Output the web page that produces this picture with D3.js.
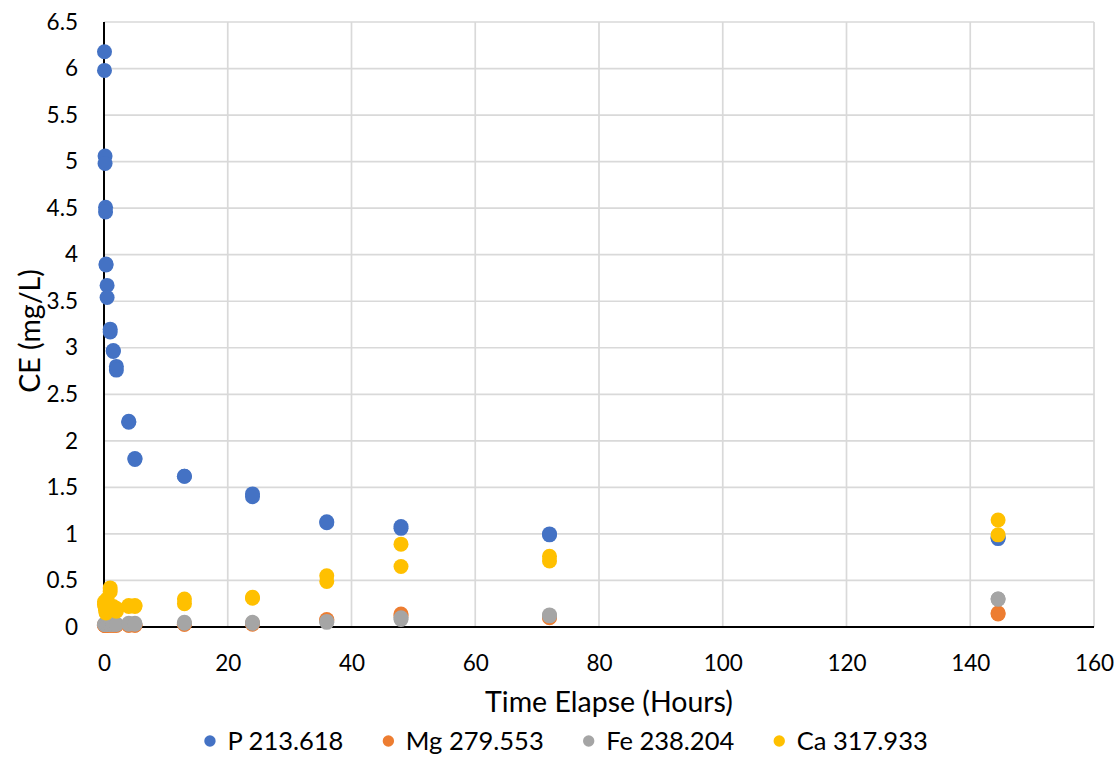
<!DOCTYPE html>
<html>
<head>
<meta charset="utf-8">
<script src="https://cdn.jsdelivr.net/npm/d3@7"></script>
<style>
  body { margin: 0; background: #fff; }
  svg { display: block; }
  text { font-family: Lato, "Open Sans", sans-serif; fill: #000; }
</style>
</head>
<body>
<svg id="chart" width="1119" height="757"></svg>
<script>
// Sampling times (hours), duplicate samples at each time
const hours = [0.08, 0.08, 0.17, 0.17, 0.25, 0.25, 0.33, 0.33, 0.5, 0.5, 1, 1, 1.5, 1.5, 2, 2,
               4, 4, 5, 5, 13, 13, 24, 24, 36, 36, 48, 48, 72, 72, 144.5, 144.5];

// Concentrations (mg/L) per emission line
const pValues  = [6.18, 5.98, 5.06, 4.98, 4.51, 4.46, 3.90, 3.89, 3.67, 3.54, 3.20, 3.17, 2.97, 2.96, 2.80, 2.76,
                  2.21, 2.20, 1.81, 1.80, 1.62, 1.62, 1.43, 1.40, 1.13, 1.12, 1.08, 1.06, 1.00, 0.99, 0.96, 0.95];
const mgValues = [0.02, 0.02, 0.02, 0.02, 0.02, 0.02, 0.02, 0.02, 0.02, 0.02, 0.02, 0.02, 0.02, 0.02, 0.02, 0.02,
                  0.02, 0.02, 0.02, 0.02, 0.03, 0.03, 0.04, 0.03, 0.08, 0.07, 0.14, 0.12, 0.11, 0.10, 0.15, 0.14];
const feValues = [0.03, 0.03, 0.03, 0.03, 0.03, 0.03, 0.03, 0.03, 0.03, 0.03, 0.03, 0.03, 0.03, 0.03, 0.03, 0.03,
                  0.04, 0.03, 0.04, 0.03, 0.05, 0.04, 0.05, 0.04, 0.06, 0.05, 0.10, 0.08, 0.13, 0.12, 0.30, 0.30];
const caValues = [0.27, 0.24, 0.25, 0.22, 0.20, 0.18, 0.22, 0.15, 0.30, 0.25, 0.42, 0.38, 0.22, 0.20, 0.20, 0.17,
                  0.23, 0.22, 0.23, 0.22, 0.30, 0.25, 0.32, 0.31, 0.55, 0.49, 0.89, 0.65, 0.76, 0.71, 1.15, 0.99];

const seriesNames  = ["P 213.618", "Mg 279.553", "Fe 238.204", "Ca 317.933"];
const seriesColors = ["#4472C4", "#ED7D31", "#A5A5A5", "#FFC000"];
const seriesValues = [pValues, mgValues, feValues, caValues];

const xTickValues = [0, 20, 40, 60, 80, 100, 120, 140, 160];
const yTickValues = [0, 0.5, 1, 1.5, 2, 2.5, 3, 3.5, 4, 4.5, 5, 5.5, 6, 6.5];

const xTitle = "Time Elapse (Hours)";
const yTitle = "CE (mg/L)";

const svg = d3.select("#chart");
const plot = { left: 104, right: 1094, top: 22, bottom: 627 };

const x = d3.scaleLinear().domain([0, 160]).range([plot.left, plot.right]);
const y = d3.scaleLinear().domain([0, 6.5]).range([plot.bottom, plot.top]);

// Gridlines
const grid = svg.append("g");
grid.selectAll("line.h").data(yTickValues).join("line")
  .attr("x1", plot.left).attr("x2", plot.right)
  .attr("y1", d => y(d)).attr("y2", d => y(d))
  .attr("stroke", "#D9D9D9").attr("stroke-width", 1.7);
grid.selectAll("line.v").data(xTickValues).join("line")
  .attr("y1", plot.top).attr("y2", plot.bottom)
  .attr("x1", d => x(d)).attr("x2", d => x(d))
  .attr("stroke", "#D9D9D9").attr("stroke-width", 1.7);

// Axes (labels only, solid black axis lines drawn separately)
const fmt = d => String(+d.toFixed(1));
const xAxis = svg.append("g").attr("transform", `translate(0,${plot.bottom})`)
  .call(d3.axisBottom(x).tickValues(xTickValues).tickFormat(fmt).tickSize(0).tickPadding(44));
const yAxis = svg.append("g").attr("transform", `translate(${plot.left},0)`)
  .call(d3.axisLeft(y).tickValues(yTickValues).tickFormat(fmt).tickSize(0).tickPadding(26));
[xAxis, yAxis].forEach(a => {
  a.select(".domain").remove();
  a.selectAll("text").attr("font-family", "Lato, sans-serif").attr("font-size", 22.5).attr("fill", "#000");
});
xAxis.selectAll("text").attr("dy", "0");

svg.append("line")
  .attr("x1", x(0)).attr("x2", x(0)).attr("y1", plot.top).attr("y2", plot.bottom)
  .attr("stroke", "#000").attr("stroke-width", 2);
svg.append("line")
  .attr("x1", plot.left).attr("x2", plot.right).attr("y1", y(0)).attr("y2", y(0))
  .attr("stroke", "#000").attr("stroke-width", 2);

// Scatter markers, series drawn in legend order
seriesValues.forEach((vals, i) => {
  svg.append("g")
    .selectAll("circle")
    .data(vals.map((v, j) => ({ t: hours[j], v })))
    .join("circle")
    .attr("cx", d => x(d.t))
    .attr("cy", d => y(d.v))
    .attr("r", 7.5)
    .attr("fill", seriesColors[i]);
});

// Axis titles
svg.append("text")
  .attr("x", 609).attr("y", 712)
  .attr("text-anchor", "middle")
  .attr("font-size", 28.5)
  .text(xTitle);
svg.append("text")
  .attr("transform", `translate(40,331) rotate(-90)`)
  .attr("text-anchor", "middle")
  .attr("font-size", 28.5)
  .text(yTitle);

// Legend
const legend = svg.append("g");
const items = legend.selectAll("g").data(seriesNames).join("g");
items.append("circle").attr("r", 5.7).attr("cy", 0).attr("cx", 0)
  .attr("fill", (d, i) => seriesColors[i]);
items.append("text").attr("x", 17.5).attr("y", 8.8)
  .attr("font-size", 25.5)
  .text(d => d);
let cursor = 0;
const spacing = 45;
items.each(function () {
  const w = d3.select(this).select("text").node().getComputedTextLength();
  d3.select(this).attr("transform", `translate(${cursor},0)`);
  cursor += 17.5 + w + spacing;
});
const totalW = cursor - spacing + 5.7;
const legendCenter = 566;
legend.attr("transform", `translate(${legendCenter - totalW / 2 + 5.7},741)`);
</script>
</body>
</html>
